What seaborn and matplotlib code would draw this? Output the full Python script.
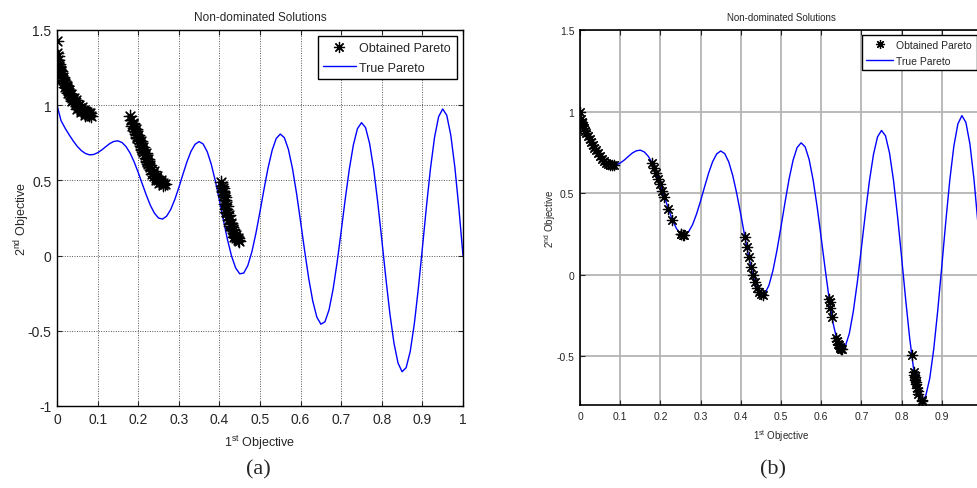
import matplotlib
matplotlib.use("Agg")
import matplotlib.pyplot as plt
from matplotlib.lines import Line2D
import seaborn as sns
import pandas as pd

# ---------------- data ----------------
X_TRUE = [0.00, 0.01, 0.02, 0.03, 0.04, 0.05, 0.06, 0.07, 0.08, 0.09,
          0.10, 0.11, 0.12, 0.13, 0.14, 0.15, 0.16, 0.17, 0.18, 0.19,
          0.20, 0.21, 0.22, 0.23, 0.24, 0.25, 0.26, 0.27, 0.28, 0.29,
          0.30, 0.31, 0.32, 0.33, 0.34, 0.35, 0.36, 0.37, 0.38, 0.39,
          0.40, 0.41, 0.42, 0.43, 0.44, 0.45, 0.46, 0.47, 0.48, 0.49,
          0.50, 0.51, 0.52, 0.53, 0.54, 0.55, 0.56, 0.57, 0.58, 0.59,
          0.60, 0.61, 0.62, 0.63, 0.64, 0.65, 0.66, 0.67, 0.68, 0.69,
          0.70, 0.71, 0.72, 0.73, 0.74, 0.75, 0.76, 0.77, 0.78, 0.79,
          0.80, 0.81, 0.82, 0.83, 0.84, 0.85, 0.86, 0.87, 0.88, 0.89,
          0.90, 0.91, 0.92, 0.93, 0.94, 0.95, 0.96, 0.97, 0.98, 0.99,
          1.00]
Y_TRUE = [1.000, 0.897, 0.847, 0.803, 0.762, 0.726, 0.698, 0.679, 0.670, 0.672,
          0.684, 0.702, 0.724, 0.745, 0.759, 0.763, 0.752, 0.725, 0.682, 0.623,
          0.553, 0.477, 0.402, 0.334, 0.282, 0.250, 0.243, 0.262, 0.306, 0.372,
          0.452, 0.539, 0.623, 0.693, 0.740, 0.758, 0.742, 0.691, 0.607, 0.496,
          0.368, 0.233, 0.105, -0.004, -0.082, -0.121, -0.116, -0.066, 0.025, 0.149,
          0.293, 0.443, 0.585, 0.701, 0.779, 0.808, 0.784, 0.706, 0.579, 0.414,
          0.225, 0.031, -0.152, -0.303, -0.409, -0.456, -0.440, -0.361, -0.224, -0.044,
          0.163, 0.377, 0.575, 0.736, 0.844, 0.884, 0.851, 0.745, 0.575, 0.355,
          0.106, -0.150, -0.388, -0.582, -0.715, -0.772, -0.745, -0.637, -0.456, -0.218,
          0.051, 0.327, 0.582, 0.788, 0.924, 0.975, 0.933, 0.800, 0.586, 0.311,
          0.000]

# panel (a): obtained (non-converged) solutions
XA = [0.000, 0.001, 0.002, 0.003, 0.004, 0.005, 0.007, 0.009, 0.011, 0.013,
      0.015, 0.018, 0.021, 0.024, 0.027, 0.030, 0.033, 0.036, 0.040, 0.044,
      0.048, 0.052, 0.056, 0.060, 0.064, 0.068, 0.072, 0.076, 0.080, 0.083,
      0.006, 0.010, 0.016, 0.020, 0.025, 0.030, 0.035, 0.042, 0.046, 0.055,
      0.062, 0.066, 0.074, 0.078, 0.003, 0.012, 0.019, 0.028, 0.038, 0.050,
      0.058, 0.070, 0.081,
      0.180, 0.183, 0.186, 0.189, 0.192, 0.195, 0.198, 0.201, 0.204, 0.207,
      0.210, 0.213, 0.216, 0.219, 0.222, 0.225, 0.228, 0.232, 0.236, 0.240,
      0.245, 0.250, 0.255, 0.260, 0.265,
      0.188, 0.194, 0.200, 0.206, 0.212, 0.218, 0.224, 0.230, 0.238, 0.247, 0.256,
      0.185, 0.197, 0.209, 0.221, 0.234, 0.243, 0.252, 0.262,
      0.405, 0.407, 0.409, 0.411, 0.413, 0.415, 0.417, 0.419, 0.421, 0.424,
      0.427, 0.430, 0.433, 0.436, 0.439, 0.442, 0.445, 0.448,
      0.410, 0.414, 0.418, 0.423, 0.428, 0.434, 0.440, 0.408, 0.416, 0.426,
      0.437, 0.446]
YA = [1.430, 1.350, 1.330, 1.300, 1.275, 1.255, 1.235, 1.215, 1.198, 1.182,
      1.168, 1.150, 1.132, 1.116, 1.100, 1.082, 1.066, 1.050, 1.035, 1.020,
      1.006, 0.994, 0.982, 0.970, 0.960, 0.952, 0.946, 0.940, 0.935, 0.930,
      1.260, 1.225, 1.185, 1.150, 1.130, 1.100, 1.075, 1.045, 1.035, 1.000,
      0.985, 0.970, 0.958, 0.950, 1.240, 1.180, 1.120, 1.080, 1.030, 0.975,
      0.955, 0.932, 0.945,
      0.928, 0.900, 0.872, 0.850, 0.828, 0.808, 0.788, 0.768, 0.748, 0.728,
      0.708, 0.688, 0.668, 0.648, 0.628, 0.608, 0.590, 0.570, 0.550, 0.532,
      0.515, 0.500, 0.490, 0.480, 0.475,
      0.880, 0.840, 0.800, 0.760, 0.720, 0.680, 0.640, 0.600, 0.565, 0.530, 0.505,
      0.860, 0.780, 0.700, 0.620, 0.545, 0.505, 0.480, 0.470,
      0.490, 0.460, 0.430, 0.400, 0.370, 0.340, 0.312, 0.285, 0.260, 0.235,
      0.210, 0.190, 0.170, 0.150, 0.132, 0.118, 0.105, 0.100,
      0.450, 0.390, 0.330, 0.270, 0.220, 0.180, 0.140, 0.420, 0.290, 0.200,
      0.125, 0.115]

# panel (b): obtained solutions lying on the true front
XB = [0.000, 0.002, 0.004, 0.006, 0.008, 0.010, 0.013, 0.016, 0.020, 0.024,
      0.028, 0.032, 0.036, 0.040, 0.045, 0.050, 0.055, 0.060, 0.065, 0.070,
      0.075, 0.080, 0.085,
      0.180, 0.185, 0.190, 0.195, 0.200, 0.205, 0.210, 0.220, 0.230, 0.250,
      0.252, 0.255, 0.258,
      0.410, 0.415, 0.420, 0.425, 0.430, 0.435, 0.440, 0.445, 0.450, 0.455,
      0.620, 0.621, 0.623, 0.627, 0.638, 0.640, 0.642, 0.644, 0.646, 0.648,
      0.650, 0.652,
      0.825, 0.831, 0.832, 0.833, 0.834, 0.835, 0.836, 0.838, 0.840, 0.842,
      0.850, 0.851]
YB = [1.000, 0.955, 0.936, 0.921, 0.909, 0.897, 0.881, 0.866, 0.847, 0.829,
      0.811, 0.794, 0.778, 0.762, 0.743, 0.726, 0.711, 0.698, 0.687, 0.679,
      0.673, 0.670, 0.670,
      0.682, 0.654, 0.623, 0.589, 0.553, 0.515, 0.477, 0.402, 0.334, 0.250,
      0.247, 0.243, 0.243,
      0.233, 0.167, 0.105, 0.048, -0.004, -0.047, -0.082, -0.107, -0.121, -0.124,
      -0.152, -0.169, -0.204, -0.262, -0.392, -0.409, -0.423, -0.435, -0.445, -0.452,
      -0.456, -0.458,
      -0.492, -0.599, -0.614, -0.630, -0.644, -0.658, -0.671, -0.695, -0.715, -0.734,
      -0.772, -0.773]

X_TICKS = [0, 0.1, 0.2, 0.3, 0.4, 0.5, 0.6, 0.7, 0.8, 0.9, 1.0]
XA_TICKLABELS = ["0", "0.1", "0.2", "0.3", "0.4", "0.5", "0.6", "0.7", "0.8", "0.9", "1"]
XB_TICKLABELS = ["0", "0.1", "0.2", "0.3", "0.4", "0.5", "0.6", "0.7", "0.8", "0.9", ""]
YA_TICKS = [-1, -0.5, 0, 0.5, 1, 1.5]
YA_TICKLABELS = ["-1", "-0.5", "0", "0.5", "1", "1.5"]
YB_TICKS = [-0.5, 0, 0.5, 1, 1.5]
YB_TICKLABELS = ["-0.5", "0", "0.5", "1", "1.5"]

TITLE = "Non-dominated Solutions"
XLABEL = "1$^{\\mathrm{st}}$ Objective"
YLABEL = "2$^{\\mathrm{nd}}$ Objective"
LEG_LABELS = ["Obtained Pareto", "True Pareto"]
PANEL_LABELS = ["(a)", "(b)"]

# ---------------- style ----------------
sns.set_style("white")
plt.rcParams["font.family"] = ["Liberation Sans", "DejaVu Sans"]
plt.rcParams["mathtext.fontset"] = "custom"
plt.rcParams["mathtext.rm"] = "Liberation Sans"
plt.rcParams["mathtext.it"] = "Liberation Sans:italic"
plt.rcParams["mathtext.bf"] = "Liberation Sans:bold"

AST = (8, 2, 0)

W, H = 978, 489
fig = plt.figure(figsize=(W / 100, H / 100), dpi=100)

def fig_rect(l, t, r, b):
    return [l / W, 1 - b / H, (r - l) / W, (b - t) / H]

ax_a = fig.add_axes(fig_rect(57, 31, 463, 407))
ax_b = fig.add_axes(fig_rect(580, 31, 982, 406))

true_df = pd.DataFrame({"x": X_TRUE, "y": Y_TRUE})
a_df = pd.DataFrame({"x": XA, "y": YA})
b_df = pd.DataFrame({"x": XB, "y": YB})

configs = [
    (ax_a, a_df, (-1, 1.5), XA_TICKLABELS, YA_TICKS, YA_TICKLABELS, 10, 8.5, 9, 9,
     dict(ls=(0, (1, 1.5)), color="#555555", lw=0.7), 1.0, 8.0, 80, -3, 0.62),
    (ax_b, b_df, (-0.8, 1.5), XB_TICKLABELS, YB_TICKS, YB_TICKLABELS, 7.5, 7, 7, 7.5,
     dict(ls="-", color="#b4b4b4", lw=1.3), 1.2, 6.5, 55, -1, 0.55),
]

for (ax, pts, ylim, xtl, yt, ytl, tfs, titfs, lfs, legfs, gridkw, spw, msz, ssz,
     ylp, lsp) in configs:
    ax.set_axisbelow(True)
    for v in X_TICKS:
        ax.axvline(v, zorder=0, **gridkw)
    for v in yt:
        ax.axhline(v, zorder=0, **gridkw)
    sns.lineplot(data=true_df, x="x", y="y", ax=ax, color="#0000ff",
                 linewidth=1.0, sort=False, estimator=None, zorder=2)
    sns.scatterplot(data=pts, x="x", y="y", ax=ax, marker=AST, s=ssz,
                    color="black", linewidth=0.9, zorder=3, legend=False)
    ax.set_xlim(0, 1)
    ax.set_ylim(*ylim)
    ax.set_xticks(X_TICKS)
    ax.set_xticklabels(xtl, fontsize=tfs)
    ax.set_yticks(yt)
    ax.set_yticklabels(ytl, fontsize=tfs)
    ax.tick_params(direction="in", length=3.5, width=0.8, top=True, right=True,
                   bottom=True, left=True, pad=4)
    for sp in ax.spines.values():
        sp.set_visible(True)
        sp.set_color("black")
        sp.set_linewidth(spw)
    ax.set_title(TITLE, fontsize=titfs, pad=7)
    ax.set_xlabel(XLABEL, fontsize=lfs, labelpad=5)
    ax.set_ylabel(YLABEL, fontsize=lfs, labelpad=ylp)
    handles = [
        Line2D([], [], marker=AST, color="black", linestyle="none",
               markersize=msz, markeredgewidth=0.9),
        Line2D([], [], color="#0000ff", lw=1.0),
    ]
    leg = ax.legend(handles, LEG_LABELS, loc="upper right", fontsize=legfs,
                    frameon=True, fancybox=False, framealpha=1,
                    edgecolor="black", borderaxespad=0.5, handlelength=2.6,
                    handletextpad=0.3, borderpad=0.45, labelspacing=lsp)
    leg.get_frame().set_linewidth(1.0)

fig.text(258 / W, 1 - 470 / H, PANEL_LABELS[0], ha="center", va="center",
         fontsize=16, family=["Liberation Serif", "DejaVu Serif"])
fig.text(773 / W, 1 - 470 / H, PANEL_LABELS[1], ha="center", va="center",
         fontsize=16, family=["Liberation Serif", "DejaVu Serif"])

fig.savefig("out.png", dpi=100)
